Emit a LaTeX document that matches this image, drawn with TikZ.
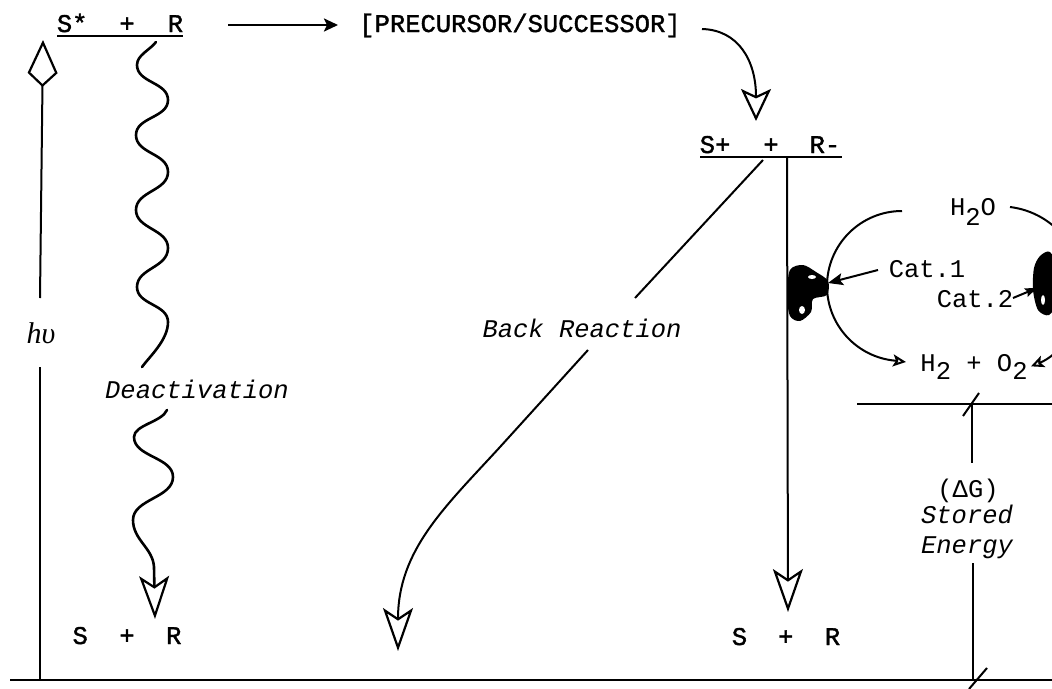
\documentclass[tikz,border=0pt]{standalone}
\usepackage{fontspec}
\setmonofont{Liberation Mono}
\newfontfamily\heavytt[FakeBold=1.5]{Liberation Mono}
\newfontfamily\seriffam{Liberation Serif}
\usetikzlibrary{arrows.meta}
\begin{document}
\begin{tikzpicture}[x=1pt,y=-1pt,
  txt/.style={font=\ttfamily\fontsize{25.5}{30}\selectfont, inner sep=0pt, anchor=base},
  btxt/.style={font=\heavytt\fontsize{25.5}{30}\selectfont, inner sep=0pt, anchor=base},
  itxt/.style={font=\ttfamily\itshape\fontsize{25.5}{30}\selectfont, inner sep=0pt, anchor=base},
  ln/.style={line width=2pt},
  wave/.style={line width=2.6pt, line cap=round},
  bighead/.style={-{Stealth[open,length=43pt,width=30pt,inset=10pt,line width=2.2pt]}},
  midhead/.style={-{Stealth[open,length=32pt,width=30pt,inset=7pt,line width=2.2pt]}},
  smallhead/.style={-{Stealth[open,length=13pt,width=12pt,inset=3pt,line width=2pt]}},
  fillhead/.style={-{Stealth[length=15pt,width=12pt,inset=3pt]}},
  blob/.style={fill=black}]
\clip (0,0) rectangle (1052,688);
\fill[white] (0,0) rectangle (1052,688);

% ---------- texts ----------
\node[btxt] (ssr) at (120,32) {S*\hspace{32pt}+\hspace{33pt}R};
\node[btxt] (prec) at (520,32) {[PRECURSOR/SUCCESSOR]};
\node[btxt] (spr) at (770,153) {S+\hspace{33pt}+\hspace{31pt}R-};
\node[btxt] (bl) at (127,644) {S\hspace{31.5pt}+\hspace{31.5pt}R};
\node[btxt] (br) at (786,645) {S\hspace{31pt}+\hspace{31.5pt}R};
\node[itxt] (deact) at (197,398) {Deactivation};
\node[itxt] (back) at (582,337) {Back Reaction};
\node[font=\seriffam\itshape\fontsize{30}{34}\selectfont, inner sep=0pt, anchor=base] (hv) at (41,343) {hυ};
\node[txt] (h2o) at (973,215) {H\raisebox{-10pt}{2}O};
\node[txt] (h2o2) at (974,371) {H\raisebox{-8pt}{2} + O\raisebox{-8pt}{2}};
\node[txt] (cat1) at (927,277) {Cat.1};
\node[txt] (cat2) at (975,307) {Cat.2};
\node[txt] (dg) at (968,497) {(ΔG)};
\node[itxt] (stored) at (967,523) {Stored};
\node[itxt] (energy) at (967,553) {Energy};

% ---------- coordinates ----------
\coordinate (ssrL) at (57,36);
\coordinate (ssrR) at (183,36);
\coordinate (sprL) at (700,157);
\coordinate (sprR) at (842,157);
\coordinate (vtop) at (787,157);
\coordinate (vtip) at (788,612);
\coordinate (hvtip) at (43,40);

% underlines
\draw[ln] (ssrL) -- (ssrR);
\draw[ln] (sprL) -- (sprR);

% base lines
\draw[ln] (10,680) -- (1052,680);
\draw[ln] (857,404) -- (1052,404);

% h nu arrow
\draw[ln] (40,680) -- (40,367);
\draw[ln, -{Kite[open,length=47pt,width=30pt,inset=14pt,line width=2.2pt]}] (40,298) -- (hvtip);

% S*+R -> precursor
\draw[ln, line width=2.4pt, -{Stealth[length=14pt,width=13pt,inset=3pt]}] (228,25) -- (338,25);

% precursor -> S+ + R-
\draw[ln, midhead] (702,29) .. controls (738,30) and (756,60) .. (756,121);

% deactivation waves
\draw[wave] (156,42) .. controls (150,50) and (137,55) .. (137,65)
  .. controls (137,83) and (168,82) .. (168,100)
  .. controls (168,118) and (136,117) .. (136,135)
  .. controls (136,154) and (168,153) .. (168,172)
  .. controls (168,191) and (136,191) .. (136,210)
  .. controls (136,229) and (168,229) .. (168,248)
  .. controls (168,268) and (137,268) .. (137,287)
  .. controls (137,305) and (168,304) .. (168,322)
  .. controls (168,340) and (150,356) .. (142,367);
\draw[wave, bighead] (167,410) .. controls (162,422) and (134,425) .. (134,437)
  .. controls (134,457) and (173,457) .. (173,477)
  .. controls (173,498) and (133,499) .. (133,520)
  .. controls (133,540) and (153,548) .. (154,567)
  -- (155,619);

% back reaction
\draw[ln] (763,160) -- (635,298);
\draw[ln, bighead] (588,350) -- (500,447)
  .. controls (445,507) and (398,550) .. (398,651);

% charge separated -> S + R
\draw[ln, bighead] (vtop) -- (vtip);

% catalytic cycle
\draw[ln, smallhead] (902,211) arc[start angle=270, end angle=95, radius=75] -- (906,362);
\draw[ln, smallhead] (1010,207) arc[start angle=-83, end angle=68, radius=83];

% blobs
\fill[blob] plot[smooth cycle] coordinates {(790,270) (803,265) (816,272) (828,281) (827,295) (813,299) (811,312) (800,321) (790,316) (787,295)};
\fill[white] (802,310) ellipse[x radius=3, y radius=4];
\fill[white] (812,277) ellipse[x radius=4, y radius=2];
\fill[blob] plot[smooth cycle] coordinates {(1040,256) (1050,252) (1058,270) (1058,300) (1049,315) (1038,310) (1033,290) (1034,268)};
\fill[white] (1043,300) ellipse[x radius=2, y radius=5];

% catalyst pointers
\draw[ln, fillhead] (878,270) -- (828,283);
\draw[ln, -{Stealth[length=12pt,width=9pt,inset=2pt]}] (1013,298) -- (1037,288);

% stored energy
\draw[ln] (972,404) -- (972,463);
\draw[ln] (973,563) -- (973,680);
\draw[ln] (963,416) -- (979,393);
\draw[ln] (969,689) -- (987,668);
\end{tikzpicture}
\end{document}
